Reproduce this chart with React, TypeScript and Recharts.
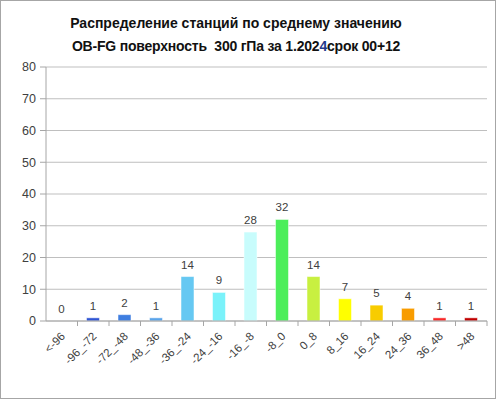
import React from "react";
import {
  BarChart,
  Bar,
  XAxis,
  YAxis,
  CartesianGrid,
  Cell,
  LabelList,
} from "recharts";

const categories = [
  "<-96", "-96_-72", "-72_-48", "-48_-36", "-36_-24", "-24_-16", "-16_-8",
  "-8_0", "0_8", "8_16", "16_24", "24_36", "36_48", ">48",
];
const counts = [0, 1, 2, 1, 14, 9, 28, 32, 14, 7, 5, 4, 1, 1];
const barColors = [
  "#2f55d4", "#2f55d4", "#3f7ee0", "#5aa4ea", "#66c8f2", "#7af2fa", "#c8fcfc",
  "#4cee5a", "#c8f040", "#ffff00", "#f8cc00", "#f89c00", "#f82828", "#c00000",
];
const yTicks = [0, 10, 20, 30, 40, 50, 60, 70, 80];

const data = categories.map((name, i) => ({ name, value: counts[i] }));

const FONT = "'Liberation Sans', Arial, sans-serif";
const BAND = 441 / categories.length;

const XTick = (props: any) => {
  const { x, y, payload } = props;
  return (
    <g>
      <line x1={x + BAND / 2} y1={y - 8} x2={x + BAND / 2} y2={y - 3} stroke="#a6a6a6" />
      <text
        x={x + 4}
        y={y + 8}
        transform={`rotate(-45, ${x + 4}, ${y + 8})`}
        textAnchor="end"
        fontSize={11.5}
        fontFamily={FONT}
        fill="#404040"
      >
        {payload.value}
      </text>
    </g>
  );
};

export default function App() {
  return (
    <div
      style={{
        position: "absolute",
        left: 0,
        top: 0,
        width: 496,
        height: 399,
        border: "1px solid #a6a6a6",
        boxSizing: "border-box",
        background: "#fff",
      }}
    >
      <div
        style={{
          position: "absolute",
          left: 0,
          top: 11,
          width: 470,
          textAlign: "center",
          fontFamily: FONT,
          fontWeight: "bold",
          fontSize: 14,
          lineHeight: "23px",
          color: "#111",
        }}
      >
        <div>Распределение станций по среднему значению</div>
        <div style={{ letterSpacing: -0.2 }}>
          OB-FG поверхность&nbsp; 300 гПа за 1.202
          <span style={{ color: "#1f3a8a" }}>4</span>срок 00+12
        </div>
      </div>
      <div style={{ position: "absolute", left: -1, top: -1 }}>
        <BarChart
          width={496}
          height={399}
          data={data}
          margin={{ top: 67, right: 9, left: 0, bottom: 0 }}
          barCategoryGap={0}
        >
          <CartesianGrid vertical={false} stroke="#bfbfbf" />
          <XAxis
            dataKey="name"
            height={78}
            interval={0}
            tickLine={false}
            axisLine={{ stroke: "#a6a6a6" }}
            tick={<XTick />}
          />
          <YAxis
            width={46}
            domain={[0, 80]}
            ticks={yTicks}
            interval={0}
            tickMargin={4}
            axisLine={{ stroke: "#a6a6a6" }}
            tickLine={{ stroke: "#a6a6a6" }}
            tick={{ fontSize: 12.5, fontFamily: FONT, fill: "#404040" }}
          />
          <Bar
            dataKey="value"
            barSize={13}
            minPointSize={0.01}
            isAnimationActive={false}
          >
            {data.map((d, i) => (
              <Cell
                key={i}
                fill={d.value === 0 ? "none" : barColors[i]}
                stroke={d.value === 0 ? "none" : "rgba(255,255,255,0.5)"}
              />
            ))}
            <LabelList
              dataKey="value"
              position="top"
              offset={8}
              style={{ fontSize: 11.5, fontFamily: FONT, fill: "#404040" }}
            />
          </Bar>
        </BarChart>
      </div>
    </div>
  );
}
